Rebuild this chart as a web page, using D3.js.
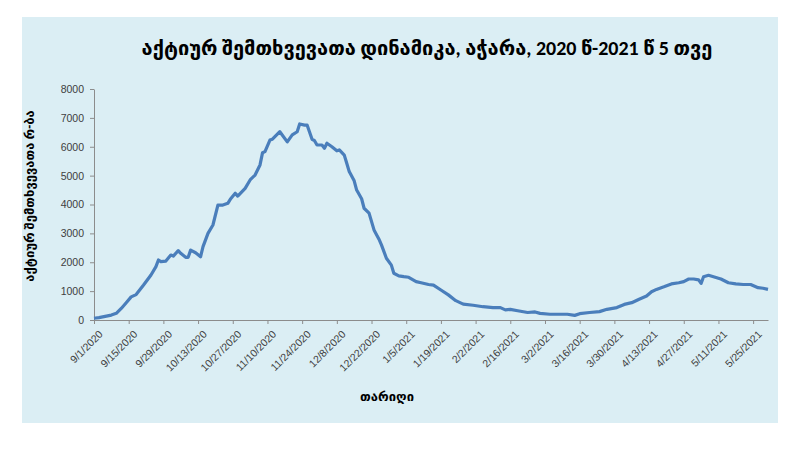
<!DOCTYPE html>
<html><head><meta charset="utf-8">
<script src="https://cdn.jsdelivr.net/npm/d3@7"></script>
<style>body{margin:0;background:#fff;}svg{display:block;font-family:Calibri,"Liberation Sans","DejaVu Sans",sans-serif;}</style>
</head><body><svg id="c" width="800" height="450"></svg>
<script>
const title = "აქტიურ  შემთხვევათა დინამიკა, აჭარა, 2020 წ-2021 წ 5 თვე";
const yLabel = "აქტიურ შემთხვევათა რ-ბა";
const xLabel = "თარიღი";
const startDate = "2020-09-01";
const endDate = "2021-05-31";
const yTicks = [0,1000,2000,3000,4000,5000,6000,7000,8000];
// day offsets from 9/1/2020 and active case counts
const dayOffsets = [0,2,4,7,9,11,13,15,17,20,23,25,26,27,29,31,32,34,35,37,38,39,41,43,44,46,48,50,52,54,55,57,58,61,63,65,67,68,69,71,72,75,78,80,82,83,85,86,88,89,90,92,93,94,96,98,99,101,102,103,105,106,108,109,111,113,115,116,118,120,121,123,125,127,130,132,135,137,140,143,146,149,153,157,161,164,166,168,171,175,178,180,184,187,191,194,196,200,204,207,211,214,217,220,223,225,227,230,233,236,238,240,242,244,245,246,248,250,253,256,259,262,265,268,270,272];
const activeCases = [60,80,115,170,230,400,600,800,880,1210,1560,1850,2080,2020,2040,2250,2215,2400,2310,2170,2170,2420,2330,2190,2540,3000,3290,3980,3980,4040,4180,4390,4290,4560,4850,5020,5370,5790,5830,6230,6260,6520,6170,6410,6520,6790,6750,6750,6260,6210,6060,6060,5950,6120,6000,5860,5890,5710,5430,5140,4820,4500,4200,3870,3700,3120,2800,2600,2140,1900,1620,1530,1500,1480,1330,1290,1230,1210,1040,870,670,550,510,460,430,430,350,370,320,260,280,230,200,200,200,160,220,260,290,370,430,540,600,720,830,980,1060,1150,1250,1290,1330,1420,1420,1390,1270,1500,1550,1500,1420,1290,1250,1230,1230,1120,1100,1060];

const svg = d3.select("#c");
svg.append("rect").attr("x",22).attr("y",17).attr("width",756).attr("height",406).attr("fill","#DBEEF4");

const parse = d3.utcParse("%Y-%m-%d");
const t0 = parse(startDate), t1 = parse(endDate);
const data = dayOffsets.map((d,i)=>({date:d3.utcDay.offset(t0,d), v:activeCases[i]}));

const x = d3.scaleUtc().domain([t0,t1]).range([94,768]);
const y = d3.scaleLinear().domain([0,8000]).range([320,89]);

const tickDates = d3.range(0,267,14).map(d=>d3.utcDay.offset(t0,d));
const fmt = d=>`${d.getUTCMonth()+1}/${d.getUTCDate()}/${d.getUTCFullYear()}`;

const xAxis = svg.append("g").attr("transform","translate(0,320)")
  .call(d3.axisBottom(x).tickValues(tickDates).tickFormat(fmt).tickSize(4).tickSizeOuter(0));
xAxis.select(".domain").attr("stroke","#8c8c8c");
xAxis.selectAll(".tick line").attr("stroke","#8c8c8c");
xAxis.selectAll("text").attr("fill","#404040").style("font-size","10.5px")
  .attr("text-anchor","end").attr("dy","0").attr("dx","0")
  .attr("transform","translate(4,10) rotate(-45)");

const yAxis = svg.append("g").attr("transform","translate(94,0)")
  .call(d3.axisLeft(y).tickValues(yTicks).tickFormat(d3.format("d")).tickSize(4).tickSizeOuter(0).tickPadding(6));
yAxis.select(".domain").attr("stroke","#8c8c8c");
yAxis.selectAll(".tick line").attr("stroke","#8c8c8c");
yAxis.selectAll("text").attr("fill","#404040").style("font-size","10.5px");

svg.append("path").datum(data)
  .attr("d", d3.line().x(d=>x(d.date)).y(d=>y(d.v)))
  .attr("fill","none").attr("stroke","#4A7EBB").attr("stroke-width",3.2).attr("stroke-linejoin","round");

svg.append("text").attr("x",427).attr("y",55).attr("text-anchor","middle")
  .style("font-size","20px").style("font-weight","bold").attr("fill","#000").text(title);
svg.append("text").attr("transform","translate(34,196) rotate(-90)").attr("text-anchor","middle")
  .style("font-size","13px").style("font-weight","bold").attr("fill","#000").text(yLabel);
svg.append("text").attr("x",387).attr("y",401).attr("text-anchor","middle")
  .style("font-size","13px").style("font-weight","bold").attr("fill","#000").text(xLabel);
</script></body></html>
